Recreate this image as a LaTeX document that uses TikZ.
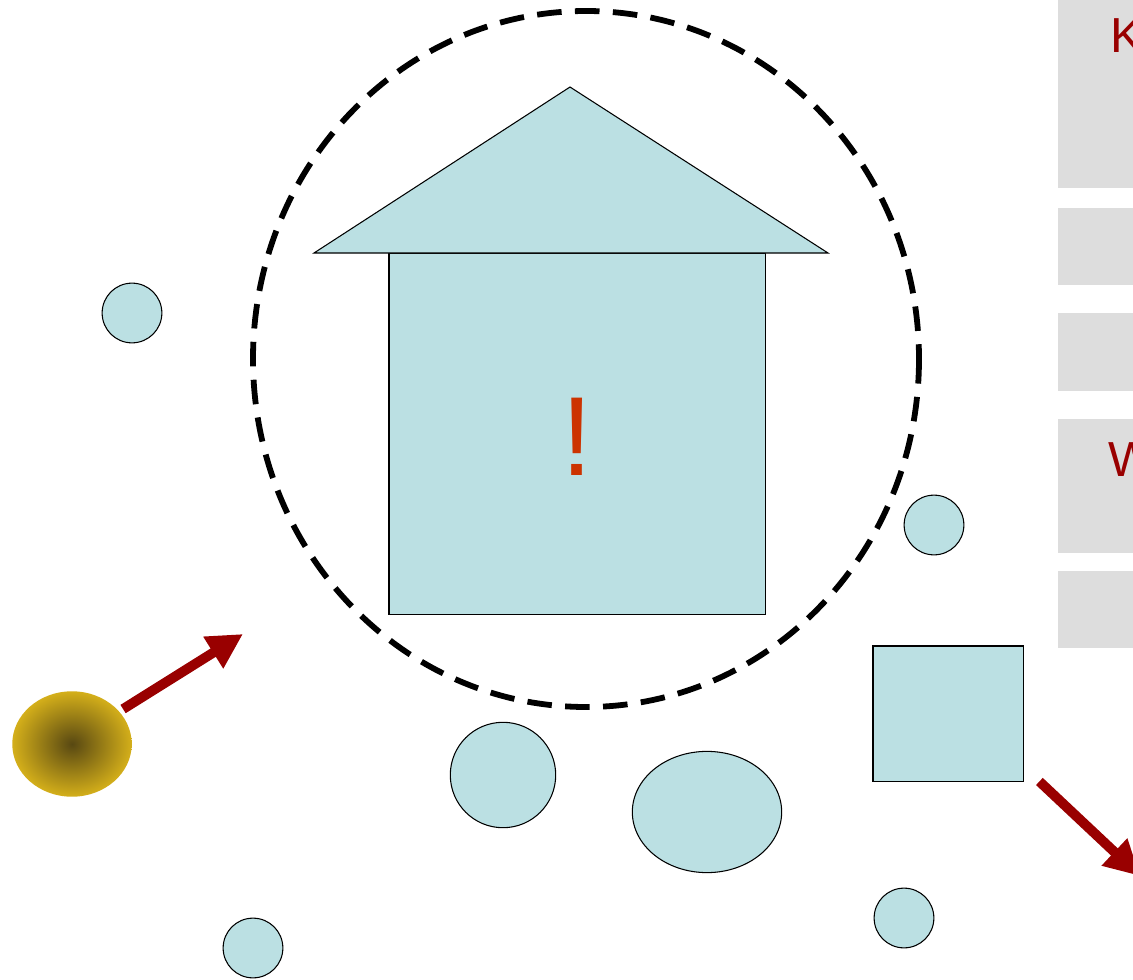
\documentclass[tikz,border=0pt]{standalone}
\usepackage{fontspec}
\setmainfont{Liberation Sans}
\usepackage{xcolor}
\definecolor{paleteal}{RGB}{187,224,227}
\definecolor{darkred}{RGB}{153,0,0}
\definecolor{alertred}{RGB}{204,51,0}
\definecolor{panelgray}{RGB}{221,221,221}
\definecolor{goldball}{RGB}{212,175,26}
\definecolor{darkgold}{RGB}{88,72,18}
\usetikzlibrary{arrows.meta, positioning, shapes.geometric}

\begin{document}
\begin{tikzpicture}[
  x=0.02cm, y=-0.02cm,
  shape base/.style={draw=black, line width=0.6pt, fill=paleteal, inner sep=0pt, outer sep=0pt},
  dot/.style={shape base, circle, minimum size=34pt},
  blob/.style={shape base, ellipse},
  block/.style={shape base, rectangle},
  panel/.style={rectangle, fill=panelgray, inner sep=0pt, minimum width=113pt, anchor=north west},
  paneltext/.style={font=\fontsize{28}{32}\selectfont, text=darkred, inner sep=0pt, anchor=base west},
  move/.style={-{Triangle[length=20pt, width=20pt]}, line width=5.6pt, color=darkred}
]
  \useasboundingbox (0,0) rectangle (1133,980);
  \clip (0,0) rectangle (1133,980);
  \fill[white] (0,0) rectangle (1133,980);

  % Panels on the right
  \node[panel, minimum height=106.6pt] (p1) at (1058,0)   {};
  \node[panel, minimum height=43.7pt]  (p2) at (1058,208) {};
  \node[panel, minimum height=44.2pt]  (p3) at (1058,313) {};
  \node[panel, minimum height=76pt]    (p4) at (1058,419) {};
  \node[panel, minimum height=43.7pt]  (p5) at (1058,571) {};
  \node[paneltext] (k) at (1110,53)  {K};
  \node[paneltext] (w) at (1108,476) {W};

  % Dashed ring
  \draw[line width=3.3pt, dash pattern=on 14pt off 7.6pt]
    (586,359) ellipse [x radius=333, y radius=348];

  % House
  \node[block, minimum width=214.3pt, minimum height=205.8pt, anchor=north west] (body) at (389,253) {};
  \coordinate (apex) at (570,87);
  \coordinate (eaveL) at (314,253);
  \coordinate (eaveR) at (828,253);
  \filldraw[fill=paleteal, draw=black, line width=0.6pt] (eaveL) -- (apex) -- (eaveR) -- cycle;
  \node[font=\fontsize{64}{70}\selectfont, text=alertred, inner sep=0pt] (mark) at (577,437) {!};

  % Small dots
  \node[dot] (d1) at (132,313) {};
  \node[dot] (d2) at (934,525) {};
  \node[dot] (d3) at (253,948) {};
  \node[dot] (d4) at (904,918) {};

  % Other shapes
  \node[blob, minimum width=60pt, minimum height=60pt] (round) at (503,775) {};
  \node[blob, minimum width=85pt, minimum height=69pt] (oval)  at (707,812) {};
  \node[block, minimum width=85.6pt, minimum height=77.1pt, anchor=north west] (sq) at (873,646) {};

  % Ball
  \node[ellipse, inner sep=0pt, minimum width=68pt, minimum height=60pt,
        inner color=darkgold, outer color=goldball] (ball) at (72,744) {};

  % Arrows
  \coordinate (aim1) at (243,634);
  \coordinate (aim2) at (1140,876);
  \draw[move] (ball.35) ++(4,-2) -- (aim1);
  \draw[move] (sq.south east) ++(16,0) -- (aim2);
\end{tikzpicture}
\end{document}
